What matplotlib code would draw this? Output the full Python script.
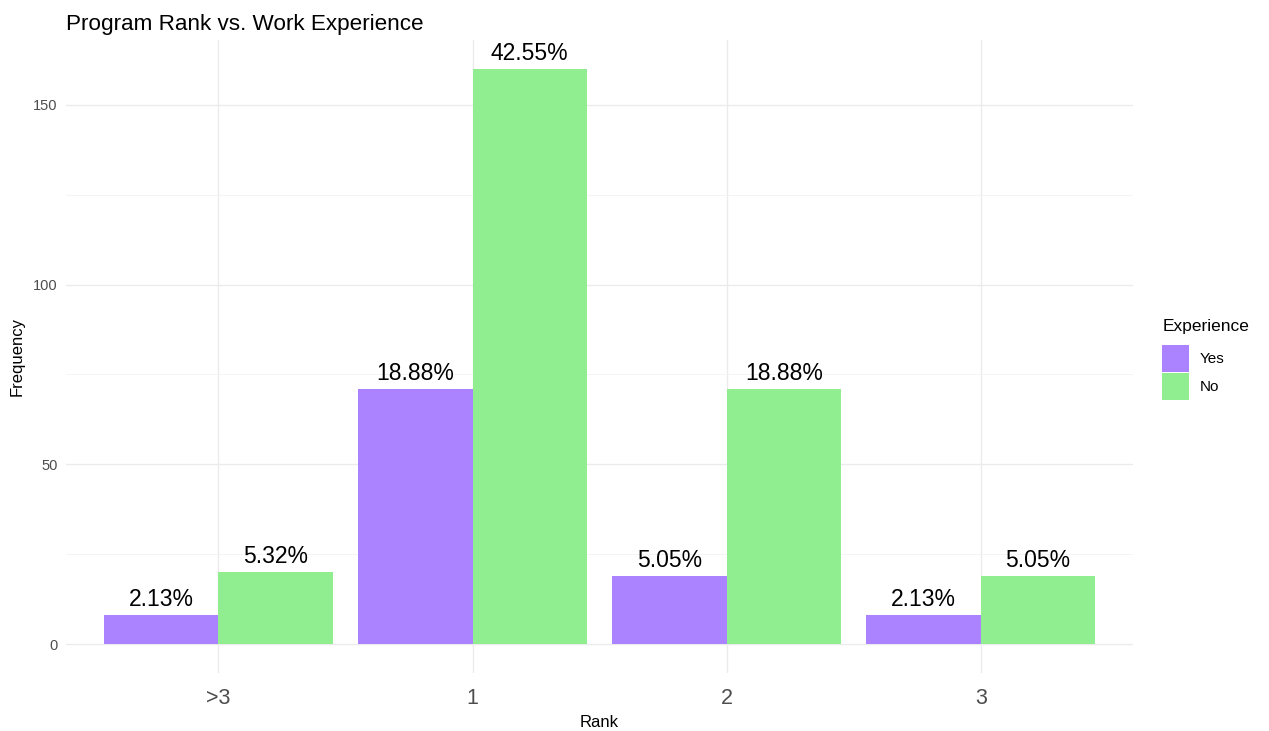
import matplotlib
matplotlib.use("Agg")
import matplotlib.pyplot as plt
import numpy as np
from matplotlib.patches import Patch

plt.rcParams['font.family'] = ['Liberation Sans', 'DejaVu Sans']

ranks = [">3", "1", "2", "3"]
yes_counts = [8, 71, 19, 8]
no_counts = [20, 160, 71, 19]
yes_labels = ["2.13%", "18.88%", "5.05%", "2.13%"]
no_labels = ["5.32%", "42.55%", "18.88%", "5.05%"]
series_names = ["Yes", "No"]
colors = ["#AB82FF", "#90EE90"]

fig = plt.figure(figsize=(12.69, 7.31), dpi=100)
ax = fig.add_axes([0.052, 0.0793, 0.841, 0.866])

x = np.arange(len(ranks))
w = 0.45
for vals, labs, off, col in [(yes_counts, yes_labels, -w/2, colors[0]),
                             (no_counts, no_labels, w/2, colors[1])]:
    ax.bar(x + off, vals, width=w, color=col, linewidth=0, zorder=2)
    for xi, v, lab in zip(x + off, vals, labs):
        ax.annotate(lab, (xi, v), xytext=(0, 3), textcoords="offset points",
                    ha="center", va="bottom", fontsize=16.5, color="black", zorder=3)

ax.set_xlim(-0.6, 3.6)
ax.set_ylim(-8, 168)
ax.set_xticks(x)
ax.set_xticklabels(ranks, fontsize=15.5, color="#4D4D4D")
ax.set_yticks([0, 50, 100, 150])
ax.set_yticks([25, 75, 125], minor=True)
ax.tick_params(axis="y", which="major", labelsize=10.5, labelcolor="#4D4D4D", length=0, pad=6)
ax.tick_params(axis="y", which="minor", length=0)
ax.tick_params(axis="x", length=0, pad=11)
ax.grid(True, which="major", color="#EBEBEB", linewidth=1.0, zorder=0)
ax.grid(True, which="minor", axis="y", color="#F3F3F3", linewidth=0.6, zorder=0)
ax.set_axisbelow(True)
for s in ax.spines.values():
    s.set_visible(False)

ax.set_xlabel("Rank", fontsize=12, labelpad=4)
ax.set_ylabel("Frequency", fontsize=12, labelpad=6)
ax.set_title("Program Rank vs. Work Experience", fontsize=16.2, loc="left", pad=7, x=0.0)

handles = [Patch(facecolor=c, edgecolor="none", label=n) for c, n in zip(colors, series_names)]
leg = fig.legend(handles=handles, title="Experience", loc="upper left",
                 bbox_to_anchor=(0.911, 0.572), frameon=False, fontsize=11,
                 title_fontsize=12.5, handlelength=1.75, handleheight=2.3,
                 labelspacing=0.1, handletextpad=0.7, borderaxespad=0)
leg._legend_box.align = "left"
leg._legend_box.sep = 8

fig.savefig("out.png", dpi=100, facecolor="white")
